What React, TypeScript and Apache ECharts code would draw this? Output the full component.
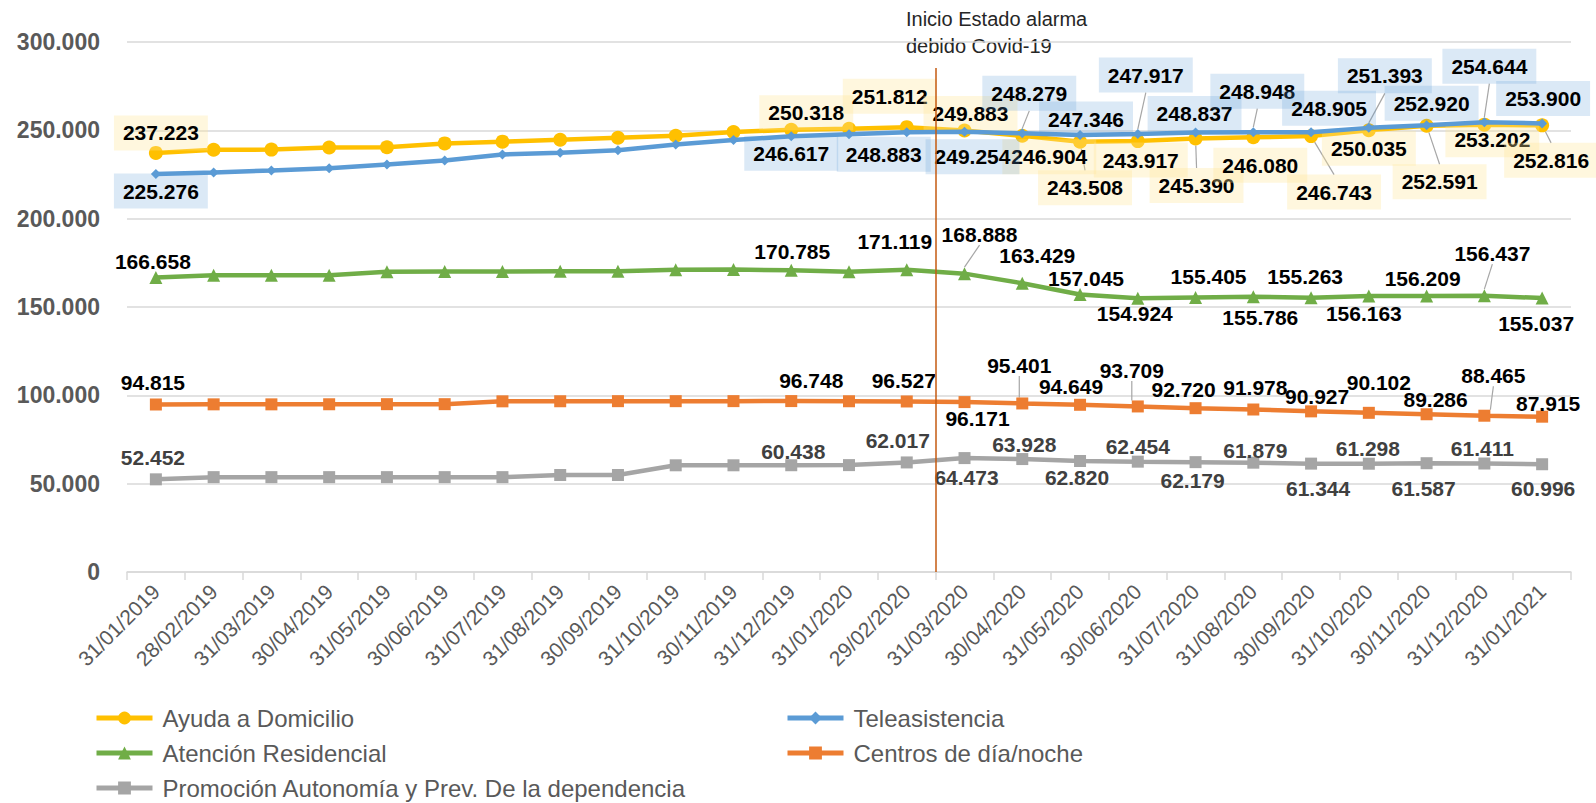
import React, { useEffect, useRef } from 'react';
import * as echarts from 'echarts';

const categories = [
  '31/01/2019', '28/02/2019', '31/03/2019', '30/04/2019', '31/05/2019', '30/06/2019',
  '31/07/2019', '31/08/2019', '30/09/2019', '31/10/2019', '30/11/2019', '31/12/2019',
  '31/01/2020', '29/02/2020', '31/03/2020', '30/04/2020', '31/05/2020', '30/06/2020',
  '31/07/2020', '31/08/2020', '30/09/2020', '31/10/2020', '30/11/2020', '31/12/2020',
  '31/01/2021',
];

const ayudaDomicilio = [
  237223, 239000, 239100, 240300, 240400, 242600, 243600, 244700, 245800, 246900, 249000, 250318,
  250900, 251812, 249883, 246904, 243508, 243917, 245390, 246080, 246743, 250035, 252591, 253202,
  252816,
];
const teleasistencia = [
  225276, 226200, 227300, 228500, 230700, 232900, 236300, 237300, 238700, 242000, 244500, 246617,
  247800, 248883, 249254, 248279, 247346, 247917, 248837, 248948, 248905, 251393, 252920, 254644,
  253900,
];
const atencionResidencial = [
  166658, 168000, 168000, 168000, 170000, 170100, 170100, 170200, 170200, 171100, 171200, 170785,
  169900, 171119, 168888, 163429, 157045, 154924, 155405, 155786, 155263, 156163, 156209, 156437,
  155037,
];
const centrosDiaNoche = [
  94815, 94900, 94900, 94950, 95000, 95000, 96600, 96650, 96700, 96700, 96720, 96748,
  96650, 96527, 96171, 95401, 94649, 93709, 92720, 91978, 90927, 90102, 89286, 88465,
  87915,
];
const promocionAutonomia = [
  52452, 53700, 53700, 53700, 53700, 53700, 53700, 54900, 54900, 60400, 60400, 60438,
  60500, 62017, 64473, 63928, 62820, 62454, 62179, 61879, 61344, 61298, 61587, 61411,
  60996,
];

const yTicks = { min: 0, max: 300000, interval: 50000 };
const covidBoundary = 14; // boundary before 31/03/2020 on the hidden 0..25 axis
const covidLineTop = 285300;
const covidText = 'Inicio Estado alarma\ndebido Covid-19';

// label placement: dataIndex -> [dx, dy, leader?]
type Place = [number, number, number?];
const ayudaPlaces: Record<number, Place> = {
  0: [5, -20], 11: [15, -17], 13: [-17, -31], 14: [6, -17], 15: [27, 21], 16: [5, 46, 1],
  17: [3, 19], 18: [1, 47, 1], 19: [7, 28], 20: [23, 56, 1], 21: [0, 18], 22: [13, 56, 1],
  23: [8, 15], 24: [9, 35, 1],
};
const telePlaces: Record<number, Place> = {
  0: [5, 17], 11: [0, 17], 13: [-23, 22], 14: [8, 25], 15: [7, -40, 1], 16: [6, -16],
  17: [8, -59, 1], 18: [-1, -19], 19: [4, -41, 1], 20: [18, -24], 21: [16, -52, 1], 22: [5, -22],
  23: [5, -56, 1], 24: [1, -25],
};
const resiPlaces: Record<number, Place> = {
  0: [-3, -16], 11: [1, -19], 13: [-12, -28], 14: [15, -39, 1], 15: [15, -28], 16: [6, -16],
  17: [-3, 15], 18: [13, -21], 19: [7, 21], 20: [-6, -21], 21: [-5, 17], 22: [-4, -18],
  23: [8, -42, 1], 24: [-6, 25],
};
const centrosPlaces: Record<number, Place> = {
  0: [-3, -22], 11: [20, -21], 13: [-3, -21], 14: [13, 16], 15: [-3, -38, 1], 16: [-9, -18],
  17: [-6, -36, 1], 18: [-12, -19], 19: [2, -22], 20: [6, -15], 21: [10, -30], 22: [9, -15],
  23: [9, -40, 1], 24: [6, -13],
};
const promoPlaces: Record<number, Place> = {
  0: [-3, -22], 11: [2, -14], 13: [-9, -22], 14: [2, 19], 15: [2, -15], 16: [-3, 16],
  17: [0, -15], 18: [-3, 18], 19: [2, -12], 20: [7, 25], 21: [-1, -15], 22: [-3, 25],
  23: [-2, -15], 24: [1, 24],
};

const FONT = '"Liberation Sans", Arial, sans-serif';

function fmt(v: number): string {
  return Math.round(v).toString().replace(/\B(?=(\d{3})+(?!\d))/g, '.');
}

function buildData(values: number[], places: Record<number, Place>) {
  return values.map((v, i) => {
    const p = places[i];
    if (!p) return { value: v, label: { show: false } };
    return { value: v, label: { show: true }, labelLine: { show: !!p[2] } };
  });
}

function makeSeries(
  name: string,
  values: number[],
  places: Record<number, Place>,
  color: string,
  symbol: string,
  symbolSize: number,
  labelColor: string,
  bg: string | undefined,
  z: number,
) {
  return {
    name,
    type: 'line',
    data: buildData(values, places),
    xAxisIndex: 0,
    yAxisIndex: 0,
    z,
    symbol,
    symbolSize,
    lineStyle: { color, width: 4.5 },
    itemStyle: { color },
    label: {
      show: false,
      position: 'inside',
      formatter: (p: any) => fmt(p.value),
      color: labelColor,
      fontFamily: FONT,
      fontWeight: 'bold',
      fontSize: 21,
      backgroundColor: bg,
      padding: bg ? [7, 9] : 0,
    },
    labelLine: { show: false, lineStyle: { color: '#A6A6A6', width: 1.2 } },
    labelLayout: (params: any) => {
      const p = places[params.dataIndex];
      return p ? { dx: p[0], dy: p[1] } : {};
    },
  };
}

const legendBase = {
  orient: 'vertical',
  padding: 0,
  itemWidth: 56,
  itemHeight: 16,
  lineStyle: { width: 5 },
  textStyle: { fontFamily: FONT, fontSize: 24, color: '#595959', padding: [0, 0, 0, 5] },
};

export default function App() {
  const ref = useRef<HTMLDivElement>(null);
  useEffect(() => {
    if (!ref.current) return;
    const chart = echarts.init(ref.current, undefined, { renderer: 'svg' });
    chart.setOption({
      animation: false,
      backgroundColor: '#ffffff',
      grid: { left: 127, right: 25, top: 42, bottom: 231, containLabel: false },
      xAxis: [
        {
          type: 'category',
          data: categories,
          boundaryGap: true,
          axisLine: { show: true, lineStyle: { color: '#D9D9D9', width: 1.5 } },
          axisTick: { show: true, interval: 0, length: 8, lineStyle: { color: '#D9D9D9', width: 1.5 } },
          axisLabel: {
            interval: 0,
            rotate: 45,
            margin: 16,
            fontFamily: FONT,
            fontSize: 21,
            color: '#595959',
          },
          splitLine: { show: false },
        },
        {
          type: 'value',
          min: 0,
          max: 25,
          show: false,
          gridIndex: 0,
        },
      ],
      yAxis: {
        type: 'value',
        min: yTicks.min,
        max: yTicks.max,
        interval: yTicks.interval,
        axisLine: { show: false },
        axisTick: { show: false },
        axisLabel: {
          formatter: (v: number) => fmt(v),
          fontFamily: FONT,
          fontSize: 23,
          fontWeight: 'bold',
          color: '#595959',
          margin: 27,
        },
        splitLine: { lineStyle: { color: '#D9D9D9', width: 1.5 } },
      },
      legend: [
        { ...legendBase, data: ['Ayuda a Domicilio'], left: 94, top: 706 },
        { ...legendBase, data: ['Atención Residencial'], left: 94, top: 741 },
        { ...legendBase, data: ['Promoción Autonomía y Prev. De la dependencia'], left: 94, top: 776 },
        { ...legendBase, data: ['Teleasistencia'], left: 785, top: 706 },
        { ...legendBase, data: ['Centros de día/noche'], left: 785, top: 741 },
      ],
      graphic: [
        {
          type: 'text',
          left: 906,
          top: 5,
          style: {
            text: covidText,
            font: `20px ${FONT}`,
            lineHeight: 27,
            fill: '#262626',
          },
        },
      ],
      series: [
        makeSeries('Ayuda a Domicilio', ayudaDomicilio, ayudaPlaces, '#FFC000', 'circle', 14, '#000000', 'rgba(255,230,153,0.32)', 2),
        makeSeries('Teleasistencia', teleasistencia, telePlaces, '#5B9BD5', 'diamond', 10, '#000000', 'rgba(91,155,213,0.22)', 3),
        makeSeries('Atención Residencial', atencionResidencial, resiPlaces, '#70AD47', 'triangle', 13, '#000000', undefined, 2),
        makeSeries('Centros de día/noche', centrosDiaNoche, centrosPlaces, '#ED7D31', 'rect', 12, '#000000', undefined, 2),
        makeSeries('Promoción Autonomía y Prev. De la dependencia', promocionAutonomia, promoPlaces, '#A5A5A5', 'rect', 12, '#404040', undefined, 2),
        {
          name: 'covid',
          type: 'line',
          xAxisIndex: 1,
          yAxisIndex: 0,
          data: [],
          silent: true,
          markLine: {
            silent: true,
            symbol: 'none',
            label: { show: false },
            lineStyle: { color: '#C55A11', width: 1.5, type: 'solid' },
            data: [[{ coord: [covidBoundary, 0] }, { coord: [covidBoundary, covidLineTop] }]],
          },
        },
      ],
    });
    return () => chart.dispose();
  }, []);
  return (
    <div
      ref={ref}
      style={{ position: 'fixed', left: 0, top: 0, width: 1596, height: 803, background: '#fff' }}
    />
  );
}
